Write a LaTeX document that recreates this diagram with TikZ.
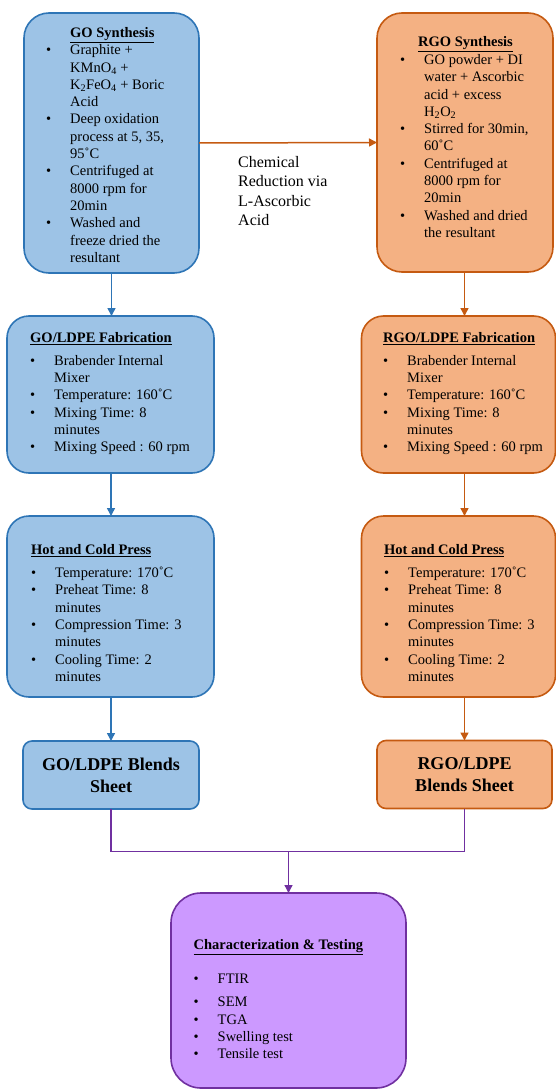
\documentclass[tikz,border=0pt]{standalone}
\usepackage{fontspec}
\setmainfont{Liberation Serif}
\usetikzlibrary{arrows.meta}
\definecolor{bfill}{HTML}{9DC3E6}
\definecolor{bline}{HTML}{2E75B6}
\definecolor{ofill}{HTML}{F4B183}
\definecolor{oline}{HTML}{C55A11}
\definecolor{pfill}{HTML}{CC99FF}
\definecolor{pline}{HTML}{7030A0}
\newcommand{\itm}[1]{\makebox[24pt][l]{\textbullet}#1}
\newcommand{\cnt}[1]{\hspace*{24pt}#1}
\newcommand{\ttl}[1]{\underline{\textbf{#1}}}
\begin{document}
\begin{tikzpicture}[x=1pt,y=-1pt,
  box/.style={rectangle, draw, line width=1.6pt, inner sep=0pt, outer sep=0pt},
  gobox/.style={box, draw=bline, fill=bfill},
  rgobox/.style={box, draw=oline, fill=ofill},
  pbox/.style={box, draw=pline, fill=pfill},
  body/.style={anchor=base west, inner sep=0pt, font=\fontsize{14.5}{17.3}\selectfont},
  blend/.style={align=center, font=\fontsize{18}{22}\selectfont\bfseries},
  conn/.style={line width=1.5pt, -{Triangle[width=8pt,length=8pt]}},
  barrow/.style={conn, draw=bline},
  oarrow/.style={conn, draw=oline},
  pline/.style={line width=1.1pt, draw=pline},
  parrow/.style={line width=1.3pt, draw=pline, -{Triangle[width=8pt,length=8pt]}}
]
\useasboundingbox (0,0) rectangle (556,1089);

% boxes
\node[gobox, rounded corners=25pt, minimum width=175pt, minimum height=260pt] (B1) at (111.5,143) {};
\node[rgobox, rounded corners=25pt, minimum width=176pt, minimum height=259pt] (B2) at (465,142.5) {};
\node[gobox, rounded corners=22pt, minimum width=207pt, minimum height=157pt] (B3) at (110.5,394.5) {};
\node[rgobox, rounded corners=22pt, minimum width=194pt, minimum height=157pt] (B4) at (458.5,394.5) {};
\node[gobox, rounded corners=22pt, minimum width=207pt, minimum height=181pt] (B5) at (110.5,606.5) {};
\node[rgobox, rounded corners=22pt, minimum width=194pt, minimum height=181pt] (B6) at (458.5,606.5) {};
\node[gobox, rounded corners=9pt, minimum width=176pt, minimum height=68pt, blend] (B7) at (111,775) {GO/LDPE Blends\\Sheet};
\node[rgobox, rounded corners=9pt, minimum width=175pt, minimum height=68pt, blend] (B8) at (464.5,774.5) {RGO/LDPE\\Blends Sheet};
\node[pbox, rounded corners=30pt, minimum width=235pt, minimum height=195pt] (B9) at (288.5,990.5) {};

% texts
\node[body] (T1) at (46,37.5) {\begin{tabular}[t]{@{}l@{}}
\hspace*{24pt}\ttl{GO Synthesis}\\
\itm{Graphite +}\\
\cnt{KMnO\textsubscript{4} +}\\
\cnt{K\textsubscript{2}FeO\textsubscript{4} + Boric}\\
\cnt{Acid}\\
\itm{Deep oxidation}\\
\cnt{process at 5, 35,}\\
\cnt{95˚C}\\
\itm{Centrifuged at}\\
\cnt{8000 rpm for}\\
\cnt{20min}\\
\itm{Washed and}\\
\cnt{freeze dried the}\\
\cnt{resultant}
\end{tabular}};

\node[body] (T2) at (400,46.5) {\begin{tabular}[t]{@{}l@{}}
\hspace*{18pt}\ttl{RGO Synthesis}\\[0.7pt]
\itm{GO powder + DI}\\
\cnt{water + Ascorbic}\\
\cnt{acid + excess}\\
\cnt{H\textsubscript{2}O\textsubscript{2}}\\
\itm{Stirred for 30min,}\\
\cnt{60˚C}\\
\itm{Centrifuged at}\\
\cnt{8000 rpm for}\\
\cnt{20min}\\
\itm{Washed and dried}\\
\cnt{the resultant}
\end{tabular}};

\node[body] (T3) at (30,342.5) {\begin{tabular}[t]{@{}l@{}}
\ttl{GO/LDPE Fabrication}\\[5.5pt]
\itm{Brabender Internal}\\
\cnt{Mixer}\\
\itm{Temperature: 160˚C}\\
\itm{Mixing Time: 8}\\
\cnt{minutes}\\
\itm{Mixing Speed : 60 rpm}
\end{tabular}};

\node[body] (T4) at (383,342.5) {\begin{tabular}[t]{@{}l@{}}
\ttl{RGO/LDPE Fabrication}\\[5.5pt]
\itm{Brabender Internal}\\
\cnt{Mixer}\\
\itm{Temperature: 160˚C}\\
\itm{Mixing Time: 8}\\
\cnt{minutes}\\
\itm{Mixing Speed : 60 rpm}
\end{tabular}};

\node[body] (T5) at (31,554.5) {\begin{tabular}[t]{@{}l@{}}
\ttl{Hot and Cold Press}\\[5.7pt]
\itm{Temperature: 170˚C}\\
\itm{Preheat Time: 8}\\
\cnt{minutes}\\
\itm{Compression Time: 3}\\
\cnt{minutes}\\
\itm{Cooling Time: 2}\\
\cnt{minutes}
\end{tabular}};

\node[body] (T6) at (384,554.5) {\begin{tabular}[t]{@{}l@{}}
\ttl{Hot and Cold Press}\\[5.7pt]
\itm{Temperature: 170˚C}\\
\itm{Preheat Time: 8}\\
\cnt{minutes}\\
\itm{Compression Time: 3}\\
\cnt{minutes}\\
\itm{Cooling Time: 2}\\
\cnt{minutes}
\end{tabular}};

\node[body] (T9) at (193.5,949.5) {\begin{tabular}[t]{@{}l@{}}
\ttl{Characterization \& Testing}\\[16.7pt]
\itm{FTIR}\\[5.7pt]
\itm{SEM}\\[0.4pt]
\itm{TGA}\\
\itm{Swelling test}\\
\itm{Tensile test}
\end{tabular}};

\node[anchor=base west, inner sep=0pt, font=\fontsize{16}{19.3}\selectfont] (L) at (238,167.5) {\begin{tabular}[t]{@{}l@{}}
Chemical\\
Reduction via\\
L-Ascorbic\\
Acid
\end{tabular}};

% connectors
\draw[oarrow] (B1.east) -- (B2.west);
\draw[barrow] (B1.south) -- (B1.south |- B3.north);
\draw[barrow] (B7.north |- B3.south) -- (B7.north |- B5.north);
\draw[barrow] (B7.north |- B5.south) -- (B7.north);
\draw[oarrow] (B8.north |- B2.south) -- (B8.north |- B4.north);
\draw[oarrow] (B8.north |- B4.south) -- (B8.north |- B6.north);
\draw[oarrow] (B8.north |- B6.south) -- (B8.north);
\coordinate (J) at (288.5,851.5);
\draw[pline] (B7.south) |- (J) -| (B8.south);
\draw[parrow] (J) -- (B9.north);
\end{tikzpicture}
\end{document}
